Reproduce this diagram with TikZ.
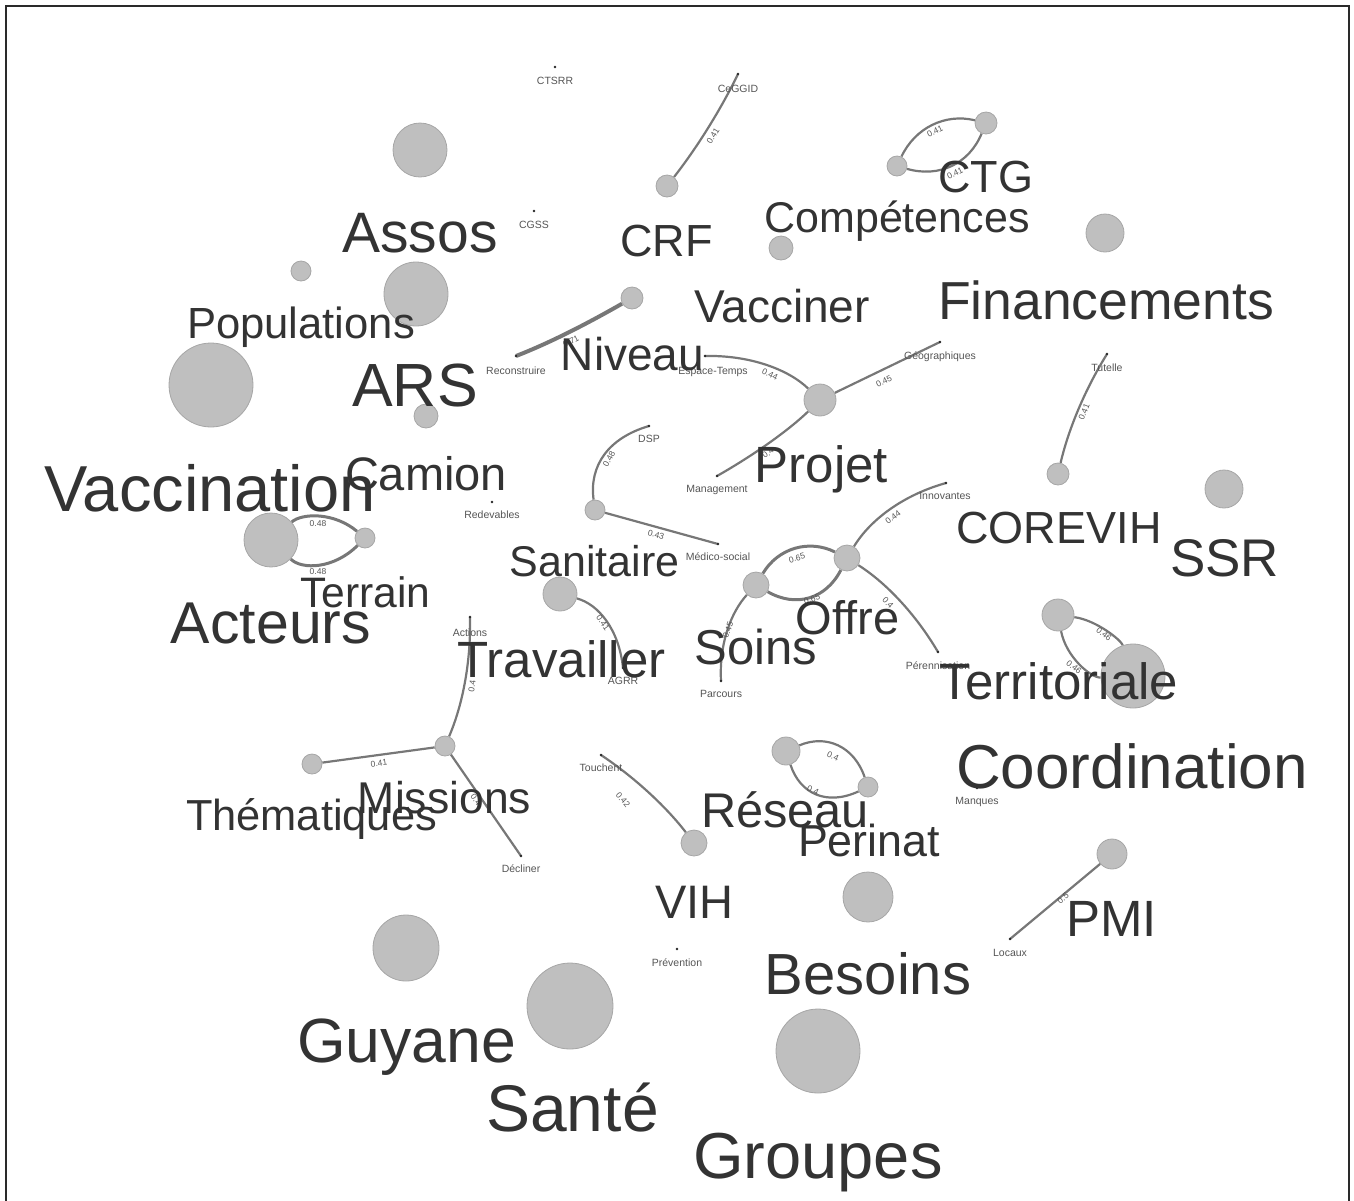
\documentclass[tikz,border=0pt]{standalone}
\usepackage{fontspec}
\setmainfont{Liberation Sans}
\usetikzlibrary{backgrounds}
\definecolor{wordcol}{HTML}{333333}
\definecolor{smallcol}{HTML}{555555}
\definecolor{edgecol}{HTML}{777777}
\definecolor{bubfill}{HTML}{BFBFBF}
\definecolor{bubline}{HTML}{A6A6A6}
\definecolor{framecol}{HTML}{2A2A2A}
\tikzset{
  bub/.style={circle, fill=bubfill, draw=bubline, line width=0.8pt, inner sep=0pt, minimum size=#1},
  wd/.style={font=\fontsize{#1}{#1}\selectfont, text=wordcol, anchor=base, inner sep=0pt},
  lbl/.style={font=\fontsize{10.5}{10.5}\selectfont, text=smallcol, anchor=base, inner sep=0pt},
  elab/.style={font=\fontsize{8.5}{8.5}\selectfont, text=smallcol, inner sep=0pt},
  lnk/.style={draw=edgecol, line width=2.2pt},
  pt/.style={circle, fill=black!85, inner sep=0pt, minimum size=2.6pt}
}
\begin{document}
\begin{tikzpicture}[x=1pt,y=-1pt]
\useasboundingbox (0,0) rectangle (1354,1200);
\draw[framecol, line width=1.5pt] (6,1215) -- (6,6) -- (1349,6) -- (1349,1215);

% ---------- end points and isolated points
\coordinate (eCeGGID) at (738,74);
\coordinate (eRecon) at (516,356);
\coordinate (eEspace) at (705,356);
\coordinate (eGeo) at (940,342);
\coordinate (eMgmt) at (717,476);
\coordinate (eTut) at (1107,354);
\coordinate (eDSP) at (649,426);
\coordinate (eMed) at (718,544);
\coordinate (eInno) at (946,483);
\coordinate (ePer) at (938,652);
\coordinate (ePar) at (721,681);
\coordinate (eAGRR) at (623,668);
\coordinate (eAct) at (470,617);
\coordinate (eDec) at (521,856);
\coordinate (eTou) at (601,755);
\coordinate (eLoc) at (1010,939);
\coordinate (pCTSRR) at (555,67);
\coordinate (pCGSS) at (534,211);
\coordinate (pRed) at (492,502);
\coordinate (pPrev) at (677,949);
\coordinate (pMan) at (977,788);

% ---------- bubbles
\node[bub=54] (bAssos) at (420,150) {};
\node[bub=22] (bCRF) at (667,186) {};
\node[bub=20] (bCTGa) at (897,166) {};
\node[bub=22] (bCTGb) at (986,123) {};
\node[bub=24] (bComp) at (781,248) {};
\node[bub=38] (bFin) at (1105,233) {};
\node[bub=20] (bPop) at (301,271) {};
\node[bub=64] (bARS) at (416,294) {};
\node[bub=22] (bNiv) at (632,298) {};
\node[bub=84] (bVacc) at (211,385) {};
\node[bub=24] (bCam) at (426,416) {};
\node[bub=32] (bProj) at (820,400) {};
\node[bub=22] (bCor) at (1058,474) {};
\node[bub=38] (bSSR) at (1224,489) {};
\node[bub=20] (bSan) at (595,510) {};
\node[bub=54] (bAct) at (271,540) {};
\node[bub=20] (bTer) at (365,538) {};
\node[bub=26] (bOff) at (847,558) {};
\node[bub=26] (bSoi) at (756,585) {};
\node[bub=34] (bTra) at (560,594) {};
\node[bub=32] (bTerA) at (1058,615) {};
\node[bub=64] (bTerB) at (1133,676) {};
\node[bub=20] (bThe) at (312,764) {};
\node[bub=20] (bMis) at (445,746) {};
\node[bub=28] (bRes) at (786,751) {};
\node[bub=20] (bPer) at (868,787) {};
\node[bub=26] (bVIH) at (694,843) {};
\node[bub=50] (bBes) at (868,897) {};
\node[bub=30] (bPMI) at (1112,854) {};
\node[bub=66] (bGuy) at (406,948) {};
\node[bub=86] (bSan2) at (570,1006) {};
\node[bub=84] (bGro) at (818,1051) {};

% ---------- connectors (behind the bubbles)
\begin{scope}[on background layer]
\draw[lnk] (bCRF) .. controls (699,145) and (722,107) .. (eCeGGID);
\draw[lnk] (bCTGa) .. controls (915,128) and (945,113) .. (bCTGb);
\draw[lnk] (bCTGa) .. controls (939,178) and (969,164) .. (bCTGb);
\draw[lnk, line width=4pt] (bNiv) .. controls (590,322) and (552,342) .. (eRecon);
\draw[lnk] (bProj) .. controls (788,369) and (749,355) .. (eEspace);
\draw[lnk] (bProj) -- (eGeo);
\draw[lnk] (bProj) .. controls (789,430) and (754,455) .. (eMgmt);
\draw[lnk] (bCor) .. controls (1068,431) and (1084,391) .. (eTut);
\draw[lnk] (bSan) .. controls (589,466) and (608,438) .. (eDSP);
\draw[lnk] (bSan) -- (eMed);
\draw[lnk, line width=3pt] (bAct) .. controls (302,513) and (334,512) .. (bTer);
\draw[lnk, line width=3pt] (bAct) .. controls (302,570) and (334,569) .. (bTer);
\draw[lnk, line width=3pt] (bOff) .. controls (809,539) and (778,548) .. (bSoi);
\draw[lnk, line width=3pt] (bOff) .. controls (826,599) and (796,608) .. (bSoi);
\draw[lnk] (bOff) .. controls (870,520) and (903,495) .. (eInno);
\draw[lnk] (bOff) .. controls (885,582) and (915,613) .. (ePer);
\draw[lnk] (bSoi) .. controls (731,612) and (719,644) .. (ePar);
\draw[lnk] (bTra) .. controls (598,604) and (619,629) .. (eAGRR);
\draw[lnk] (bTerA) .. controls (1096,620) and (1121,640) .. (bTerB);
\draw[lnk] (bTerA) .. controls (1066,657) and (1091,678) .. (bTerB);
\draw[lnk] (bMis) .. controls (463,704) and (471,661) .. (eAct);
\draw[lnk] (bMis) -- (bThe);
\draw[lnk] (bMis) -- (eDec);
\draw[lnk] (bVIH) .. controls (668,809) and (637,779) .. (eTou);
\draw[lnk] (bRes) .. controls (826,734) and (854,746) .. (bPer);
\draw[lnk] (bRes) .. controls (800,794) and (827,806) .. (bPer);
\draw[lnk] (bPMI) -- (eLoc);
\end{scope}

% ---------- points
\foreach \p in {eCeGGID,eRecon,eEspace,eGeo,eMgmt,eTut,eDSP,eMed,eInno,ePer,ePar,eAGRR,eAct,eDec,eTou,eLoc,pCTSRR,pCGSS,pRed,pPrev,pMan}{
  \node[pt] at (\p) {};
}

% ---------- connector labels
\node[elab, rotate=58] (l1) at (713,136) {0.41};
\node[elab, rotate=26] (l2) at (935,131) {0.41};
\node[elab, rotate=26] (l3) at (955,173) {0.41};
\node[elab, rotate=27] (l4) at (571,341) {0.71};
\node[elab, rotate=-25] (l5) at (770,374) {0.44};
\node[elab, rotate=26] (l6) at (884,381) {0.45};
\node[elab, rotate=36] (l7) at (768,453) {0.4};
\node[elab, rotate=68] (l8) at (1084,412) {0.41};
\node[elab, rotate=62] (l9) at (609,459) {0.48};
\node[elab, rotate=-15] (l10) at (656,535) {0.43};
\node[elab] (l11) at (318,524) {0.48};
\node[elab] (l12) at (318,572) {0.48};
\node[elab, rotate=16] (l13) at (797,558) {0.65};
\node[elab, rotate=16] (l14) at (812,599) {0.65};
\node[elab, rotate=37] (l15) at (893,517) {0.44};
\node[elab, rotate=-46] (l16) at (888,603) {0.4};
\node[elab, rotate=70] (l17) at (728,630) {0.45};
\node[elab, rotate=-55] (l18) at (603,623) {0.41};
\node[elab, rotate=-39] (l19) at (1104,634) {0.46};
\node[elab, rotate=-39] (l20) at (1074,667) {0.46};
\node[elab, rotate=82] (l21) at (472,686) {0.4};
\node[elab, rotate=8] (l22) at (379,763) {0.41};
\node[elab, rotate=-55] (l23) at (476,800) {0.4};
\node[elab, rotate=-50] (l24) at (623,800) {0.42};
\node[elab, rotate=-24] (l25) at (833,756) {0.4};
\node[elab, rotate=-24] (l26) at (813,790) {0.4};
\node[elab, rotate=40] (l27) at (1063,898) {0.5};

% ---------- small labels
\node[lbl] (tCTSRR) at (555,84) {CTSRR};
\node[lbl] (tCeGGID) at (738,92) {CeGGID};
\node[lbl] (tCGSS) at (534,228) {CGSS};
\node[lbl] (tRecon) at (516,374) {Reconstruire};
\node[lbl] (tEspace) at (713,374) {Espace-Temps};
\node[lbl] (tGeo) at (940,359) {Géographiques};
\node[lbl] (tTut) at (1107,371) {Tutelle};
\node[lbl] (tDSP) at (649,442) {DSP};
\node[lbl] (tMgmt) at (717,492) {Management};
\node[lbl] (tInno) at (945,499) {Innovantes};
\node[lbl] (tRed) at (492,518) {Redevables};
\node[lbl] (tMed) at (718,560) {Médico-social};
\node[lbl] (tAct) at (470,636) {Actions};
\node[lbl] (tAGRR) at (623,684) {AGRR};
\node[lbl] (tPar) at (721,697) {Parcours};
\node[lbl] (tPer) at (938,669) {Pérennisation};
\node[lbl] (tTou) at (601,771) {Touchent};
\node[lbl] (tMan) at (977,804) {Manques};
\node[lbl] (tDec) at (521,872) {Décliner};
\node[lbl] (tPrev) at (677,966) {Prévention};
\node[lbl] (tLoc) at (1010,956) {Locaux};

% ---------- words
\node[wd=57] (wAssos) at (420,252) {Assos};
\node[wd=45] (wCRF) at (666.5,256) {CRF};
\node[wd=43] (wComp) at (897,232) {Compétences};
\node[wd=45] (wCTG) at (985.5,192) {CTG};
\node[wd=53.5] (wFin) at (1106,319) {Financements};
\node[wd=46] (wVacciner) at (782,322) {Vacciner};
\node[wd=43.6] (wPop) at (301,338) {Populations};
\node[wd=46] (wNiv) at (632.5,370) {Niveau};
\node[wd=61] (wARS) at (415,406) {ARS};
\node[wd=65] (wVacc) at (210,511) {Vaccination};
\node[wd=47] (wCam) at (426,490) {Camion};
\node[wd=51] (wProj) at (821.5,482) {Projet};
\node[wd=45] (wCor) at (1059,543) {COREVIH};
\node[wd=53] (wSSR) at (1224.5,576) {SSR};
\node[wd=43] (wSan) at (594.5,576) {Sanitaire};
\node[wd=42.6] (wTer) at (365.5,607) {Terrain};
\node[wd=59] (wAct) at (271,643) {Acteurs};
\node[wd=47] (wOff) at (847.5,634) {Offre};
\node[wd=49] (wSoi) at (756,664) {Soins};
\node[wd=51] (wTra) at (561.5,677) {Travailler};
\node[wd=51] (wTerr) at (1059,699) {Territoriale};
\node[wd=62] (wCoord) at (1132,788) {Coordination};
\node[wd=44.5] (wMis) at (444.5,813) {Missions};
\node[wd=43.4] (wThe) at (311.5,830) {Thématiques};
\node[wd=48.7] (wRes) at (785,827) {Réseau};
\node[wd=44.8] (wPer) at (869,856) {Perinat};
\node[wd=47] (wVIH) at (694.5,918) {VIH};
\node[wd=51] (wPMI) at (1111.5,936) {PMI};
\node[wd=58] (wBes) at (868,994) {Besoins};
\node[wd=62.5] (wGuy) at (406.5,1062) {Guyane};
\node[wd=66] (wSante) at (572.5,1131) {Santé};
\node[wd=65] (wGro) at (818,1178) {Groupes};
\end{tikzpicture}
\end{document}
